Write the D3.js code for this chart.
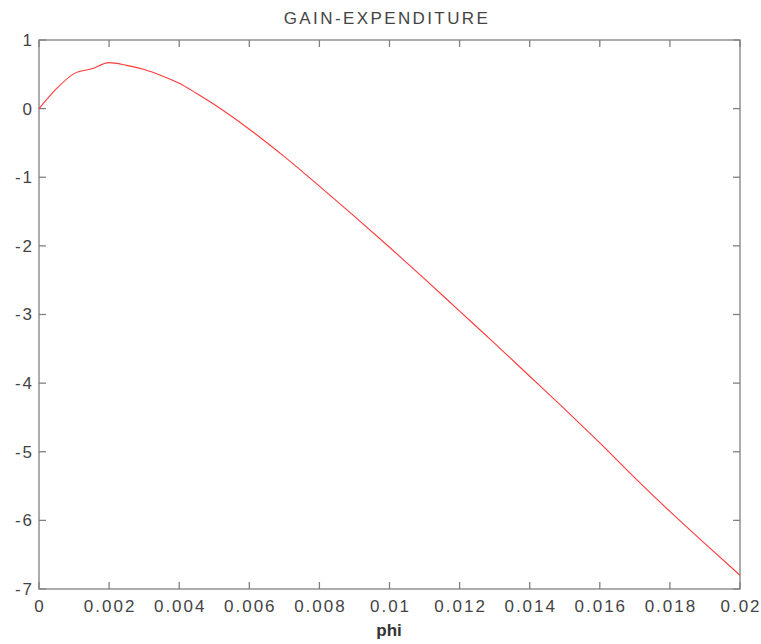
<!DOCTYPE html>
<html>
<head>
<meta charset="utf-8">
<script src="https://cdn.jsdelivr.net/npm/d3@7"></script>
<style>
body { margin: 0; background: #fff; }
text { font-family: "Liberation Sans", Arial, sans-serif; fill: #444; }
</style>
</head>
<body>
<svg></svg>
<script>
var margin = {top: 40, right: 21, bottom: 55, left: 39};

// data
var phi = [0, 0.0005, 0.001, 0.0015, 0.002, 0.0025, 0.003, 0.0035, 0.004, 0.0045, 0.005,
           0.006, 0.007, 0.008, 0.009, 0.010, 0.011, 0.012, 0.013, 0.014, 0.015,
           0.016, 0.017, 0.018, 0.019, 0.020];
var gain = [0.0, 0.29, 0.51, 0.58, 0.67, 0.63, 0.57, 0.48, 0.37, 0.22, 0.06,
            -0.30, -0.70, -1.13, -1.57, -2.02, -2.48, -2.95, -3.42, -3.90, -4.38,
            -4.87, -5.38, -5.87, -6.34, -6.80];
var xTicks = [0, 0.002, 0.004, 0.006, 0.008, 0.01, 0.012, 0.014, 0.016, 0.018, 0.02];
var yTicks = [1, 0, -1, -2, -3, -4, -5, -6, -7];

var width = 761, height = 644;
var visWidth = width - margin.left - margin.right;
var visHeight = height - margin.top - margin.bottom;

var svg = d3.select("svg")
    .attr("width", width)
    .attr("height", height);

var g = svg.append("g")
    .attr("transform", "translate(" + margin.left + "," + margin.top + ")");

var x = d3.scaleLinear().domain([0, 0.02]).range([0, visWidth]);
var y = d3.scaleLinear().domain([-7, 1]).range([visHeight, 0]);

var tickLen = 7;
var axisColor = "#808080";

// box
g.append("rect")
    .attr("width", visWidth)
    .attr("height", visHeight)
    .attr("fill", "none")
    .attr("stroke", axisColor)
    .attr("stroke-width", 1.3);

// inward ticks, bottom and top
g.selectAll(".xtb").data(xTicks).enter().append("line")
    .attr("x1", function(d) { return x(d); }).attr("x2", function(d) { return x(d); })
    .attr("y1", visHeight).attr("y2", visHeight - tickLen)
    .attr("stroke", axisColor).attr("stroke-width", 1.3);
g.selectAll(".xtt").data(xTicks).enter().append("line")
    .attr("x1", function(d) { return x(d); }).attr("x2", function(d) { return x(d); })
    .attr("y1", 0).attr("y2", tickLen)
    .attr("stroke", axisColor).attr("stroke-width", 1.3);
// left and right
g.selectAll(".ytl").data(yTicks).enter().append("line")
    .attr("y1", function(d) { return y(d); }).attr("y2", function(d) { return y(d); })
    .attr("x1", 0).attr("x2", tickLen)
    .attr("stroke", axisColor).attr("stroke-width", 1.3);
g.selectAll(".ytr").data(yTicks).enter().append("line")
    .attr("y1", function(d) { return y(d); }).attr("y2", function(d) { return y(d); })
    .attr("x1", visWidth).attr("x2", visWidth - tickLen)
    .attr("stroke", axisColor).attr("stroke-width", 1.3);

// tick labels
g.selectAll(".xl").data(xTicks).enter().append("text")
    .attr("x", function(d) { return x(d) + 1; })
    .attr("y", visHeight + 23)
    .attr("text-anchor", "middle")
    .style("font-size", "17px")
    .style("letter-spacing", "2px")
    .text(function(d) { return String(d); });

g.selectAll(".yl").data(yTicks).enter().append("text")
    .attr("x", -5)
    .attr("y", function(d) { return y(d); })
    .attr("dy", "0.35em")
    .attr("text-anchor", "end")
    .style("font-size", "17px")
    .style("letter-spacing", "2px")
    .text(function(d) { return String(d); });

// curve
var line = d3.line()
    .x(function(d, i) { return x(phi[i]); })
    .y(function(d) { return y(d); })
    .curve(d3.curveMonotoneX);

g.append("path")
    .datum(gain)
    .attr("fill", "none")
    .attr("stroke", "#ff3a3a")
    .attr("stroke-width", 1.1)
    .attr("d", line);

// title and axis label
svg.append("text")
    .attr("x", 387)
    .attr("y", 24)
    .attr("text-anchor", "middle")
    .style("font-size", "17px")
    .style("letter-spacing", "2.4px")
    .text("GAIN-EXPENDITURE");

svg.append("text")
    .attr("x", 389)
    .attr("y", 636)
    .attr("text-anchor", "middle")
    .style("font-size", "17px")
    .style("font-weight", "bold")
    .style("fill", "#333")
    .text("phi");
</script>
</body>
</html>
